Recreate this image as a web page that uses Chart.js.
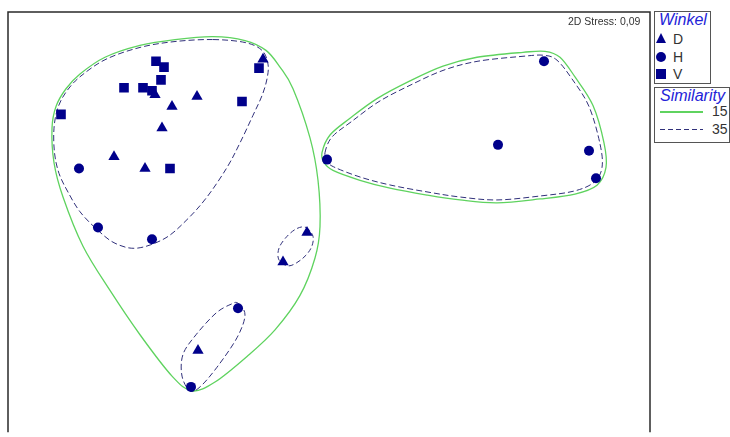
<!DOCTYPE html>
<html>
<head>
<meta charset="utf-8">
<script src="https://cdn.jsdelivr.net/npm/chart.js@4/dist/chart.umd.min.js"></script>
<style>
  body { margin: 0; background: #fff; overflow: hidden; font-family: "Liberation Sans", Arial, sans-serif; }
  #wrap { position: relative; width: 730px; height: 437px; }
  #myChart { position: absolute; left: 0; top: 0; }
  .box { position: absolute; border: 1px solid #555; background: #fff; }
  .head { position: absolute; font-style: italic; font-size: 16px; color: #2323d8; }
  .item { position: absolute; font-size: 14px; color: #333; }
  .stress { position: absolute; left: 568px; top: 15px; font-size: 10.5px; color: #333; }
  .tri { position: absolute; width: 0; height: 0; border-left: 5.5px solid transparent; border-right: 5.5px solid transparent; border-bottom: 10px solid #00008b; }
  .dot { position: absolute; width: 10px; height: 10px; border-radius: 50%; background: #00008b; }
  .sq { position: absolute; width: 10px; height: 10px; background: #00008b; }
</style>
</head>
<body>
<div id="wrap">
  <canvas id="myChart" width="730" height="437"></canvas>
  <div class="stress">2D Stress: 0,09</div>

  <div class="box" style="left:654px; top:11px; width:55px; height:71px;"></div>
  <div class="head" style="left:659px; top:11px;">Winkel</div>
  <div class="tri" style="left:656px; top:33px;"></div>
  <div class="item" style="left:673px; top:31px;">D</div>
  <div class="dot" style="left:656px; top:52px;"></div>
  <div class="item" style="left:673px; top:49px;">H</div>
  <div class="sq" style="left:656px; top:69px;"></div>
  <div class="item" style="left:673px; top:66px;">V</div>

  <div class="box" style="left:654px; top:87px; width:74px; height:54px;"></div>
  <div class="head" style="left:660px; top:87px;">Similarity</div>
  <div style="position:absolute; left:660px; top:111px; width:43px; height:1.5px; background:#5fd35f;"></div>
  <div class="item" style="left:712px; top:103px;">15</div>
  <div style="position:absolute; left:660px; top:129px; width:43px; height:1px; background:repeating-linear-gradient(to right, #30307a 0 5px, transparent 5px 8px);"></div>
  <div class="item" style="left:712px; top:121px;">35</div>
</div>

<script>
// MDS coordinates (x to the right, y downwards)
const winkelNames = ['D', 'H', 'V'];

const ptsD = [[263,60],[155,96],[197,98],[172,108],[162,130],[114,159],[145,171],[307,236],[283,266],[198,356]];
const ptsH = [[79,171],[98,231],[152,243],[238,313],[191,393],[327,162],[498,147],[544,62],[589,153],[596,181]];
const ptsV = [[156,62],[164,68],[161,81],[124,89],[143,89],[152,92],[242,103],[61,116],[170,171],[259,69]];

// cluster outlines, similarity 15
const sim15Left = [[213,37],[245,41],[266,51],[280,68],[293,90],[310,140],[318,183],[320,230],[315,262],[300,300],[275,335],[247,362],[215,388],[192,397],[172,382],[140,340],[110,295],[83,250],[63,200],[54,165],[52,130],[56,108],[66,90],[80,75],[105,58],[140,46],[175,40]];
const sim15Right = [[322,155],[330,137],[350,120],[377,100],[410,82],[443,67],[477,58],[523,53],[545,52],[560,58],[575,78],[593,107],[604,145],[606,170],[597,188],[575,197],[540,202],[497,206],[460,203],[427,198],[390,191],[360,183],[333,173],[324,165]];

// cluster outlines, similarity 35
const sim35Left = [[213,40],[245,43],[262,51],[268,65],[267,80],[262,97],[253,117],[240,145],[227,170],[207,200],[187,223],[165,242],[137,252],[115,247],[97,233],[80,215],[68,195],[59,176],[54.5,155],[54,130],[58,109],[67,92],[81,77],[106,60],[140,48],[175,42]];
const sim35Right = [[325,155],[332,139],[352,123],[379,103],[411,86],[444,71],[478,62],[523,57],[544,56],[557,61],[572,80],[589,108],[600,146],[602,170],[594,185],[574,194],[540,199],[497,203],[460,200],[428,195],[391,188],[361,180],[335,170],[327,164]];
const sim35Mid = [[306,231],[313,240],[311,252],[302,263],[289,270],[279,264],[279,252],[287,240],[297,232]];
const sim35Low = [[238,308],[245,320],[237,343],[217,373],[200,393],[190,397],[182,382],[183,360],[196,340],[216,318],[231,309]];

const hulls = [
  { pts: sim15Left, color: '#5fd35f', width: 1.3, dash: [] },
  { pts: sim15Right, color: '#5fd35f', width: 1.3, dash: [] },
  { pts: sim35Left, color: '#30307a', width: 1, dash: [6, 3] },
  { pts: sim35Right, color: '#30307a', width: 1, dash: [6, 3] },
  { pts: sim35Mid, color: '#30307a', width: 1, dash: [5, 3] },
  { pts: sim35Low, color: '#30307a', width: 1, dash: [6, 3] }
];

const toXY = arr => arr.map(p => ({x: p[0], y: p[1]}));

// closed smooth curve through the outline points
const hullPlugin = {
  id: 'hulls',
  beforeDatasetsDraw(chart) {
    const ctx = chart.ctx;
    const xs = chart.scales.x, ys = chart.scales.y;
    const a = chart.chartArea;
    ctx.save();
    ctx.beginPath();
    ctx.rect(a.left, a.top, a.right - a.left, a.bottom - a.top);
    ctx.clip();
    hulls.forEach(h => {
      const p = h.pts.map(q => [xs.getPixelForValue(q[0]), ys.getPixelForValue(q[1])]);
      const n = p.length;
      ctx.beginPath();
      ctx.moveTo(p[0][0], p[0][1]);
      for (let i = 0; i < n; i++) {
        const p0 = p[(i - 1 + n) % n], p1 = p[i], p2 = p[(i + 1) % n], p3 = p[(i + 2) % n];
        ctx.bezierCurveTo(
          p1[0] + (p2[0] - p0[0]) / 6, p1[1] + (p2[1] - p0[1]) / 6,
          p2[0] - (p3[0] - p1[0]) / 6, p2[1] - (p3[1] - p1[1]) / 6,
          p2[0], p2[1]);
      }
      ctx.closePath();
      ctx.strokeStyle = h.color;
      ctx.lineWidth = h.width;
      ctx.setLineDash(h.dash);
      ctx.stroke();
    });
    ctx.restore();
  }
};

const framePlugin = {
  id: 'frame',
  afterDraw(chart) {
    const ctx = chart.ctx, a = chart.chartArea;
    ctx.save();
    ctx.strokeStyle = '#2a2a2a';
    ctx.lineWidth = 1.5;
    ctx.beginPath();
    ctx.moveTo(a.left, a.bottom + 2);
    ctx.lineTo(a.left, a.top);
    ctx.lineTo(a.right, a.top);
    ctx.lineTo(a.right, a.bottom + 2);
    ctx.stroke();
    ctx.restore();
  }
};

const markerColor = '#00008b';

var ctx = document.getElementById('myChart').getContext('2d');
var chart = new Chart(ctx, {
  type: 'scatter',
  data: {
    datasets: [
      { label: winkelNames[0], data: toXY(ptsD), pointStyle: 'triangle', pointRadius: 6.5, backgroundColor: markerColor, borderColor: markerColor, borderWidth: 0 },
      { label: winkelNames[1], data: toXY(ptsH), pointStyle: 'circle', pointRadius: 5, backgroundColor: markerColor, borderColor: markerColor, borderWidth: 0 },
      { label: winkelNames[2], data: toXY(ptsV), pointStyle: 'rect', pointRadius: 6.8, backgroundColor: markerColor, borderColor: markerColor, borderWidth: 0 }
    ]
  },
  options: {
    responsive: false,
    animation: false,
    layout: { padding: { left: 8, top: 12, right: 80, bottom: 0 } },
    scales: {
      x: { type: 'linear', min: 8, max: 650, display: false },
      y: { type: 'linear', min: 12, max: 437, reverse: true, display: false }
    },
    plugins: {
      legend: { display: false },
      tooltip: { enabled: false }
    }
  },
  plugins: [hullPlugin, framePlugin]
});
</script>
</body>
</html>
